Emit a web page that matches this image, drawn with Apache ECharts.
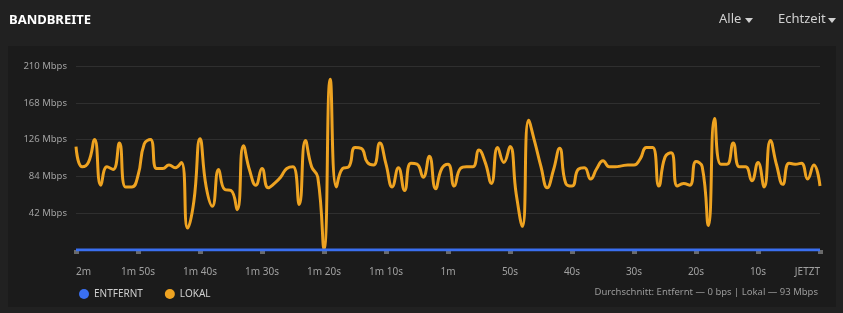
<!DOCTYPE html>
<html>
<head>
<meta charset="utf-8">
<script src="https://cdn.jsdelivr.net/npm/echarts@6/dist/echarts.min.js"></script>
<style>
  html, body { margin: 0; padding: 0; background: #212121; }
  #chart { width: 843px; height: 313px; }
</style>
</head>
<body>
<div id="chart"></div>
<script>
// seconds ago (120s .. now, 1 point per second)
var lokal = [
  118, 95, 100, 126, 74, 95, 92, 122, 72, 72,
  85, 121, 126, 93, 93, 97, 94, 100, 25, 55,
  127, 72, 50, 92, 69, 68, 46, 119, 91, 74,
  93, 71, 76, 83, 93, 95, 52, 125, 95, 83,
  1, 195, 72, 93, 95, 117, 116, 100, 97, 122,
  98, 72, 94, 68, 99, 98, 83, 107, 70, 93,
  98, 73, 93, 95, 95, 114, 100, 76, 117, 100,
  118, 64, 27, 148, 123, 95, 71, 91, 116, 76,
  73, 92, 94, 81, 93, 102, 95, 95, 96, 97,
  97, 104, 117, 117, 73, 106, 111, 73, 76, 74,
  101, 95, 28, 150, 98, 98, 122, 95, 95, 79,
  100, 72, 125, 97, 75, 99, 98, 99, 81, 97,
  73
];
var entfernt = Array(lokal.length).fill(0);
var x_labels = ['2m', '1m 50s', '1m 40s', '1m 30s', '1m 20s', '1m 10s', '1m', '50s', '40s', '30s', '20s', '10s', 'JETZT'];
var y_ticks = [0, 42, 84, 126, 168, 210];

var chart_dom = document.getElementById('chart');
var bw_chart = echarts.init(chart_dom, null, { renderer: 'canvas' });

function to_points(arr) {
  var out = [];
  for (var i = 0; i < arr.length; i++) {
    out.push([i - (arr.length - 1), arr[i]]);
  }
  return out;
}

var font = '"Noto Sans", "Open Sans", sans-serif';

var option = {
  backgroundColor: '#212121',
  animation: false,
  textStyle: { fontFamily: font },
  title: {
    text: 'BANDBREITE',
    left: 9,
    top: 14,
    padding: 0,
    textStyle: { color: '#ffffff', fontSize: 13, fontWeight: 'bold', fontFamily: font }
  },
  graphic: [
    { type: 'rect', z: -10, shape: { x: 8, y: 46, width: 828, height: 261 }, style: { fill: '#1b1b1b' } },
    { type: 'text', left: 719, top: 13, style: { text: 'Alle', fill: '#d0d0d0', fontSize: 13, fontFamily: font } },
    { type: 'polygon', shape: { points: [[745, 18], [753, 18], [749, 23]] }, style: { fill: '#d0d0d0' } },
    { type: 'text', left: 778, top: 13, style: { text: 'Echtzeit', fill: '#d0d0d0', fontSize: 13, fontFamily: font } },
    { type: 'polygon', shape: { points: [[828, 18], [836, 18], [832, 23]] }, style: { fill: '#d0d0d0' } },
    {
      type: 'text', right: 25, top: 287,
      style: { text: 'Durchschnitt: Entfernt \u2014 0 bps | Lokal \u2014 93 Mbps', fill: '#9a9a9a', fontSize: 9.5, fontFamily: font }
    }
  ],
  legend: {
    left: 74,
    top: 284,
    icon: 'circle',
    itemWidth: 10,
    itemHeight: 10,
    itemGap: 22,
    textStyle: { color: '#cfcfcf', fontSize: 10, fontFamily: font },
    data: ['ENTFERNT', 'LOKAL']
  },
  grid: { left: 76, right: 23, top: 66, bottom: 63, containLabel: false },
  xAxis: {
    type: 'value',
    min: -120,
    max: 0,
    interval: 10,
    axisLine: { show: false },
    axisTick: { show: true, length: 4, lineStyle: { color: '#6a6a6a', width: 5 } },
    splitLine: { show: false },
    axisLabel: {
      color: '#a0a0a0',
      fontSize: 10,
      margin: 17,
      fontFamily: font,
      alignMinLabel: 'left',
      alignMaxLabel: 'right',
      formatter: function (v) { return x_labels[Math.round((v + 120) / 10)]; }
    }
  },
  yAxis: {
    type: 'value',
    min: y_ticks[0],
    max: y_ticks[y_ticks.length - 1],
    interval: 42,
    axisLine: { show: false },
    axisTick: { show: false },
    splitLine: { lineStyle: { color: '#2f2f2f', width: 1 } },
    axisLabel: {
      color: '#a0a0a0',
      fontSize: 9.5,
      margin: 9,
      fontFamily: font,
      formatter: function (v) { return v === 0 ? '' : v + ' Mbps'; }
    }
  },
  series: [
    {
      name: 'ENTFERNT',
      type: 'line',
      data: to_points(entfernt),
      showSymbol: false,
      color: '#3a6ff0',
      lineStyle: { width: 3, color: '#3a6ff0' },
      z: 3
    },
    {
      name: 'LOKAL',
      type: 'line',
      data: to_points(lokal),
      smooth: 0.5,
      showSymbol: false,
      color: '#eea321',
      lineStyle: { width: 3, color: '#eea321' },
      z: 2
    }
  ]
};

bw_chart.setOption(option);
</script>
</body>
</html>
